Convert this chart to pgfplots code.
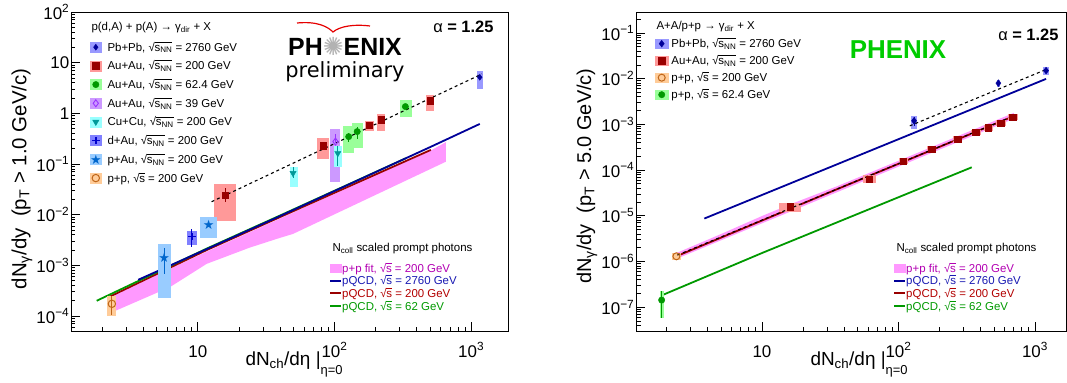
\documentclass[border=0pt]{standalone}
\usepackage{pgfplots}
\pgfplotsset{compat=1.18}
\usepackage{fontspec}
\setmainfont{Liberation Sans}
\newfontfamily\dejavu{DejaVu Sans}
\newcommand{\fs}[1]{\fontsize{#1}{#1}\selectfont}
\newcommand{\sNN}{√\kern-0.3bp$\overline{\hbox{\vphantom{N}s\textsubscript{NN}}}$}
\newcommand{\sqs}{√\kern-0.3bp$\overline{\hbox{\vphantom{N}s}}$}
\definecolor{cPb}{rgb}{0,0,0.6}
\definecolor{cPbB}{rgb}{0.6,0.6,1}
\definecolor{cAu}{rgb}{0.6,0,0}
\definecolor{cAuB}{rgb}{1,0.6,0.6}
\definecolor{cAg}{rgb}{0,0.6,0}
\definecolor{cAgB}{rgb}{0.6,1,0.6}
\definecolor{cAp}{rgb}{0.6,0.2,1}
\definecolor{cApB}{rgb}{0.8,0.6,1}
\definecolor{cCu}{rgb}{0,0.6,0.6}
\definecolor{cCuB}{rgb}{0.6,1,1}
\definecolor{cdA}{rgb}{0,0,0.8}
\definecolor{cdAB}{rgb}{0.5,0.5,1}
\definecolor{cpA}{rgb}{0,0.4,0.8}
\definecolor{cpAB}{rgb}{0.6,0.8,1}
\definecolor{cpp}{rgb}{0.75,0.4,0.1}
\definecolor{cppB}{rgb}{1,0.8,0.6}
\definecolor{cPink}{rgb}{1,0.6,1}
\definecolor{cLB}{rgb}{0,0,0.6}
\definecolor{cLR}{rgb}{0.6,0,0}
\definecolor{cLG}{rgb}{0,0.6,0}
\definecolor{tPink}{rgb}{0.7,0,0.7}
\definecolor{tBlue}{rgb}{0.1,0.1,0.7}
\definecolor{tRed}{rgb}{0.7,0,0}
\definecolor{tGreen}{rgb}{0,0.6,0}
\definecolor{phgreen}{rgb}{0,0.8,0}
\pgfplotsset{
 /pgfplots/myBase/.style={/pgfplots/scale only axis, /pgfplots/height=319bp,
   /pgfplots/tick pos=left, /pgfplots/tick align=inside,
   /pgfplots/major tick length=9bp, /pgfplots/minor tick length=4.5bp,
   /pgfplots/axis line style={line width=0.8bp}, /pgfplots/every tick/.append style={line width=0.8bp, black},
   /pgfplots/tick label style={font=\fs{17}},
   /pgfplots/xticklabel style={anchor=base, yshift=-26bp},
   /pgfplots/yticklabel style={inner sep=1.5bp},
   /pgfplots/xtick={10,100,1000}, /pgfplots/xticklabels={10,10\textsuperscript{2},10\textsuperscript{3}},
   /pgfplots/minor xtick={2,3,4,5,6,7,8,9,20,30,40,50,60,70,80,90,200,300,400,500,600,700,800,900}},
 /pgfplots/myL/.style={/pgfplots/myBase, /pgfplots/width=437bp, /pgfplots/xmin=1.18, /pgfplots/xmax=1860, /pgfplots/ymin=5.06e-5, /pgfplots/ymax=100},
 /pgfplots/myR/.style={/pgfplots/myBase, /pgfplots/width=430bp, /pgfplots/xmin=1.194, /pgfplots/xmax=1687, /pgfplots/ymin=3.01e-8, /pgfplots/ymax=0.288},
 /pgfplots/myBox/.style={/tikz/fill=#1, /tikz/draw=none, /pgfplots/forget plot},
 /pgfplots/myErr/.style={/pgfplots/error bars/y dir=both, /pgfplots/error bars/y explicit, /pgfplots/error bars/error mark=none, /pgfplots/error bars/error bar style={line width=0.9bp}},
 /pgfplots/myDleg/.style={/pgfplots/legend image code/.code={\fill[#1] (0bp,-1bp) rectangle (11bp,9bp); \draw[##1] plot coordinates {(5.5bp,4bp)}; \path (17bp,0bp);}},
 /pgfplots/myDlegR/.style={/pgfplots/legend image code/.code={\fill[#1] (0bp,-0.5bp) rectangle (13bp,8.5bp); \draw[##1] plot coordinates {(6.5bp,4bp)}; \path (16bp,0bp);}},
 /pgfplots/myLeg/.style={/pgfplots/legend cell align=left, /pgfplots/legend style={draw=none, fill=none, inner sep=0pt, outer sep=0pt, row sep=#1, font=\fs{11.5}, cells={anchor=base west}, nodes={inner sep=0pt, text height=8.5bp, text depth=3bp}}},
}
\begin{document}
\begin{tikzpicture}[x=1bp,y=1bp]
%================ LEFT: curves =================
\begin{loglogaxis}[myL, at={(71bp,52bp)}, anchor=south west, hide axis, myLeg=1.2bp, legend style={at={(0.5904,0.2116)}, anchor=north west}]
\addplot[fill=cPink, draw=none, forget plot] coordinates {(2.34,2.40e-4) (6.25,8.5e-4) (11.6,1.86e-3) (39.7,8.32e-3) (507,0.185) (653,0.27) (653,0.111) (49.7,4.17e-3) (39.7,3.47e-3) (24,2.24e-3) (11.6,1.07e-3) (6.25,3.72e-4) (2.34,1.175e-4)};
\addplot[cLR, line width=1.8bp, forget plot] coordinates {(2.28,2.43e-4) (11.6,2.0e-3) (39.7,8.9e-3) (507,0.19)};
\addplot[cLG, line width=1.8bp, forget plot] coordinates {(1.82,2.0e-4) (11.6,2.14e-3) (39.7,9.55e-3) (333,0.130)};
\addplot[cLB, line width=1.8bp, forget plot] coordinates {(3.66,5.18e-4) (11.6,2.09e-3) (39.7,9.33e-3) (507,0.219) (1156,0.618)};
\addlegendimage{legend image code/.code={\fill[cPink] (0bp,0bp) rectangle (11bp,8bp); \path (12bp,0bp);}}
\addlegendentry{\textcolor{tPink}{p+p fit, \sqs{} = 200 GeV}}
\addlegendimage{legend image code/.code={\draw[cLB, line width=2bp] (0bp,4bp) -- (11bp,4bp); \path (12bp,0bp);}}
\addlegendentry{\textcolor{tBlue}{pQCD, \sqs{} = 2760 GeV}}
\addlegendimage{legend image code/.code={\draw[cLR, line width=2bp] (0bp,4bp) -- (11bp,4bp); \path (12bp,0bp);}}
\addlegendentry{\textcolor{tRed}{pQCD, \sqs{} = 200 GeV}}
\addlegendimage{legend image code/.code={\draw[cLG, line width=2bp] (0bp,4bp) -- (11bp,4bp); \path (12bp,0bp);}}
\addlegendentry{\textcolor{tGreen}{pQCD, \sqs{} = 62 GeV}}
\end{loglogaxis}
%================ LEFT: data =================
\begin{loglogaxis}[myL, at={(71bp,52bp)}, anchor=south west, myLeg=6.5bp, legend style={at={(0.0435,0.906)}, anchor=north west},
  ytick={1e-4,1e-3,1e-2,1e-1,1,10,100},
  yticklabels={10\textsuperscript{−4},10\textsuperscript{−3},10\textsuperscript{−2},10\textsuperscript{−1},1,10,10\textsuperscript{2}},
  minor ytick={6e-5,7e-5,8e-5,9e-5,2e-4,3e-4,4e-4,5e-4,6e-4,7e-4,8e-4,9e-4,2e-3,3e-3,4e-3,5e-3,6e-3,7e-3,8e-3,9e-3,0.02,0.03,0.04,0.05,0.06,0.07,0.08,0.09,0.2,0.3,0.4,0.5,0.6,0.7,0.8,0.9,2,3,4,5,6,7,8,9,20,30,40,50,60,70,80,90}]
\addplot[myBox=cPbB] coordinates {(1112,2.99) (1216,2.99) (1216,6.95) (1112,6.95)};
\addplot[myBox=cAuB] coordinates {(13.2,7.55e-3) (18.9,7.55e-3) (18.9,0.0406) (13.2,0.0406)};
\addplot[myBox=cAuB] coordinates {(74.8,0.124) (90.8,0.124) (90.8,0.323) (74.8,0.323)};
\addplot[myBox=cAuB] coordinates {(168,0.45) (194,0.45) (194,0.708) (168,0.708)};
\addplot[myBox=cAuB] coordinates {(204,0.456) (236,0.456) (236,0.973) (204,0.973)};
\addplot[myBox=cAuB] coordinates {(467,1.13) (537,1.13) (537,2.31) (467,2.31)};
\addplot[myBox=cAgB] coordinates {(116,0.168) (140,0.168) (140,0.571) (116,0.571)};
\addplot[myBox=cAgB] coordinates {(134.6,0.205) (161,0.205) (161,0.638) (134.6,0.638)};
\addplot[myBox=cAgB] coordinates {(302,0.861) (366,0.861) (366,1.84) (302,1.84)};
\addplot[myBox=cApB] coordinates {(92,0.045) (110.6,0.045) (110.6,0.492) (92,0.492)};
\addplot[myBox=cCuB] coordinates {(47,0.0358) (54.5,0.0358) (54.5,0.089) (47,0.089)};
\addplot[myBox=cCuB] coordinates {(98.4,0.0865) (113.7,0.0865) (113.7,0.227) (98.4,0.227)};
\addplot[myBox=cdAB] coordinates {(8.27,2.54e-3) (9.79,2.54e-3) (9.79,4.87e-3) (8.27,4.87e-3)};
\addplot[myBox=cpAB] coordinates {(5.08,2.25e-4) (6.35,2.25e-4) (6.35,2.65e-3) (5.08,2.65e-3)};
\addplot[myBox=cpAB] coordinates {(10.35,3.53e-3) (13.8,3.53e-3) (13.8,9.2e-3) (10.35,9.2e-3)};
\addplot[myBox=cppB] coordinates {(2.18,1.02e-4) (2.52,1.02e-4) (2.52,2.5e-4) (2.18,2.5e-4)};
\addplot[black, dashed, line width=1.1bp, forget plot] coordinates {(12.6,0.018) (1200,6.0)};
\addplot[cPb, only marks, mark=diamond*, mark size=3bp, myErr, myDleg=cPbB] coordinates {(1156,5.15) +- (0,0.45)};
\addlegendentry{Pb+Pb, \sNN{} = 2760 GeV}
\addplot[cAu, only marks, mark=square*, mark size=3.2bp, myErr, myDleg=cAuB] coordinates {(15.9,0.0245) += (0,0.0085) -= (0,0.0065) (83,0.231) +- (0,0.03) (180,0.58) +- (0,0.05) (219,0.75) +- (0,0.07) (500,1.78) +- (0,0.15)};
\addlegendentry{Au+Au, \sNN{} = 200 GeV}
\addplot[cAg, only marks, mark=*, mark size=3.2bp, myErr, myDleg=cAgB] coordinates {(127,0.347) +- (0,0.07) (146.5,0.436) += (0,0.11) -= (0,0.13) (330,1.36) +- (0,0.15)};
\addlegendentry{Au+Au, \sNN{} = 62.4 GeV}
\addplot[cAp, only marks, mark=diamond, mark size=3.5bp, mark options={fill=white, line width=0.9bp}, myErr, myDleg=cApB] coordinates {(101.6,0.277) += (0,0.116) -= (0,0.02)};
\addlegendentry{Au+Au, \sNN{} = 39 GeV}
\addplot[cCu, only marks, mark=triangle*, mark size=3.6bp, mark options={rotate=180}, myErr, myDleg=cCuB] coordinates {(49.7,0.066) += (0,0.0205) -= (0,0.0135) (105.7,0.163) += (0,0.064) -= (0,0.072)};
\addlegendentry{Cu+Cu, \sNN{} = 200 GeV}
\addplot[cdA, only marks, mark=+, mark size=3.8bp, mark options={line width=1.6bp}, myErr, myDleg=cdAB] coordinates {(9.04,3.7e-3) += (0,1.48e-3) -= (0,1.41e-3)};
\addlegendentry{d+Au, \sNN{} = 200 GeV}
\addplot[cpA, only marks, mark=text, text mark={\color{cpA}\fs{13}\dejavu ★}, myErr, myDleg=cpAB] coordinates {(5.68,1.43e-3) += (0,0.76e-3) -= (0,0.75e-3) (12.0,6.3e-3) +- (0,0.6e-3)};
\addlegendentry{p+Au, \sNN{} = 200 GeV}
\addplot[cpp, only marks, mark=o, mark size=3.7bp, mark options={line width=1bp}, myErr, myDleg=cppB] coordinates {(2.35,1.74e-4) +- (0,0.69e-4)};
\addlegendentry{p+p, \sqs{} = 200 GeV}
\end{loglogaxis}
%================ RIGHT: curves =================
\begin{loglogaxis}[myR, at={(636bp,52bp)}, anchor=south west, hide axis, myLeg=1.2bp, legend style={at={(0.5977,0.2116)}, anchor=north west}]
\addplot[fill=cPink, draw=none, forget plot] coordinates {(2.36,1.53e-6) (5,3.98e-6) (10,9.89e-6) (16,1.77e-5) (35,4.36e-5) (100,1.60e-4) (300,6.25e-4) (700,1.79e-3) (700,1.33e-3) (300,4.63e-4) (100,1.19e-4) (35,3.23e-5) (16,1.22e-5) (10,6.84e-6) (5,2.90e-6) (2.36,1.14e-6)};
\addplot[cLR, line width=1.8bp, forget plot] coordinates {(2.36,1.3e-6) (34.8,3.73e-5) (690,1.49e-3)};
\addplot[cLG, line width=1.8bp, forget plot] coordinates {(1.84,1.81e-7) (10.1,1.55e-6) (344,1.15e-4)};
\addplot[cLB, line width=1.8bp, forget plot] coordinates {(3.78,8.7e-6) (1205,9.9e-3)};
\addlegendimage{legend image code/.code={\fill[cPink] (0bp,0bp) rectangle (11bp,8bp); \path (12bp,0bp);}}
\addlegendentry{\textcolor{tPink}{p+p fit, \sqs{} = 200 GeV}}
\addlegendimage{legend image code/.code={\draw[cLB, line width=2bp] (0bp,4bp) -- (11bp,4bp); \path (12bp,0bp);}}
\addlegendentry{\textcolor{tBlue}{pQCD, \sqs{} = 2760 GeV}}
\addlegendimage{legend image code/.code={\draw[cLR, line width=2bp] (0bp,4bp) -- (11bp,4bp); \path (12bp,0bp);}}
\addlegendentry{\textcolor{tRed}{pQCD, \sqs{} = 200 GeV}}
\addlegendimage{legend image code/.code={\draw[cLG, line width=2bp] (0bp,4bp) -- (11bp,4bp); \path (12bp,0bp);}}
\addlegendentry{\textcolor{tGreen}{pQCD, \sqs{} = 62 GeV}}
\end{loglogaxis}
%================ RIGHT: data =================
\begin{loglogaxis}[myR, at={(636bp,52bp)}, anchor=south west, myLeg=5.3bp, legend style={at={(0.0442,0.9154)}, anchor=north west},
  ytick={1e-7,1e-6,1e-5,1e-4,1e-3,1e-2,1e-1},
  yticklabels={10\textsuperscript{−7},10\textsuperscript{−6},10\textsuperscript{−5},10\textsuperscript{−4},10\textsuperscript{−3},10\textsuperscript{−2},10\textsuperscript{−1}},
  minor ytick={4e-8,5e-8,6e-8,7e-8,8e-8,9e-8,2e-7,3e-7,4e-7,5e-7,6e-7,7e-7,8e-7,9e-7,2e-6,3e-6,4e-6,5e-6,6e-6,7e-6,8e-6,9e-6,2e-5,3e-5,4e-5,5e-5,6e-5,7e-5,8e-5,9e-5,2e-4,3e-4,4e-4,5e-4,6e-4,7e-4,8e-4,9e-4,2e-3,3e-3,4e-3,5e-3,6e-3,7e-3,8e-3,9e-3,0.02,0.03,0.04,0.05,0.06,0.07,0.08,0.09,0.2}]
\addplot[myBox=cPbB] coordinates {(124,7.9e-4) (136,7.9e-4) (136,1.54e-3) (124,1.54e-3)};
\addplot[myBox=cPbB] coordinates {(525,6.5e-3) (555,6.5e-3) (555,9.4e-3) (525,9.4e-3)};
\addplot[myBox=cPbB] coordinates {(1151,0.0121) (1268,0.0121) (1268,0.0184) (1151,0.0184)};
\addplot[myBox=cAuB] coordinates {(13.4,1.22e-5) (19.3,1.22e-5) (19.3,1.91e-5) (13.4,1.91e-5)};
\addplot[myBox=cAuB] coordinates {(54.7,5.2e-5) (68.4,5.2e-5) (68.4,7.9e-5) (54.7,7.9e-5)};
\addplot[myBox=cAuB] coordinates {(100.3,1.335e-4) (117.8,1.335e-4) (117.8,1.80e-4) (100.3,1.80e-4)};
\addplot[myBox=cAuB] coordinates {(161.5,2.49e-4) (189.7,2.49e-4) (189.7,3.36e-4) (161.5,3.36e-4)};
\addplot[myBox=cAuB] coordinates {(250.5,4.12e-4) (294.3,4.12e-4) (294.3,5.55e-4) (250.5,5.55e-4)};
\addplot[myBox=cAuB] coordinates {(339.5,5.73e-4) (398.9,5.73e-4) (398.9,7.72e-4) (339.5,7.72e-4)};
\addplot[myBox=cAuB] coordinates {(419.8,7.26e-4) (493.2,7.26e-4) (493.2,9.79e-4) (419.8,9.79e-4)};
\addplot[myBox=cAuB] coordinates {(517.6,9.21e-4) (608,9.21e-4) (608,1.243e-3) (517.6,1.243e-3)};
\addplot[myBox=cAuB] coordinates {(633.8,1.24e-3) (744.6,1.24e-3) (744.6,1.672e-3) (633.8,1.672e-3)};
\addplot[myBox=cppB] coordinates {(2.2,1.1e-6) (2.55,1.1e-6) (2.55,1.55e-6) (2.2,1.55e-6)};
\addplot[myBox=cAgB] coordinates {(1.787,5.9e-8) (1.90,5.9e-8) (1.90,2.25e-7) (1.787,2.25e-7)};
\addplot[black, dashed, line width=1.1bp, forget plot] coordinates {(121,9.3e-4) (1219,0.0161)};
\addplot[black, dashed, line width=1.1bp, forget plot] coordinates {(2.4,1.38e-6) (702,1.54e-3)};
\addplot[cPb, only marks, mark=diamond*, mark size=3.4bp, myErr, myDlegR=cPbB] coordinates {(130,1.2e-3) +- (0,0.28e-3) (539,7.98e-3) +- (0,0.6e-3) (1205,0.01503) +- (0,0.0015)};
\addlegendentry{Pb+Pb, \sNN{} = 2760 GeV}
\addplot[cAu, only marks, mark=square*, mark size=3.2bp, myDlegR=cAuB] coordinates {(16.1,1.58e-5) (61.1,6.4e-5) (108.7,1.55e-4) (175,2.89e-4) (271.5,4.78e-4) (368,6.65e-4) (455,8.43e-4) (561,1.07e-3) (687,1.44e-3)};
\addlegendentry{Au+Au, \sNN{} = 200 GeV}
\addplot[cpp, only marks, mark=o, mark size=3.5bp, mark options={line width=1bp}, myDlegR=cppB] coordinates {(2.36,1.3e-6)};
\addlegendentry{p+p, \sqs{} = 200 GeV}
\addplot[cAg, only marks, mark=*, mark size=3.2bp, myErr, myDlegR=cAgB] coordinates {(1.84,1.43e-7) += (0,0.82e-7) -= (0,0.84e-7)};
\addlegendentry{p+p, \sqs{} = 62.4 GeV}
\end{loglogaxis}
%================ texts =================
\node[anchor=west, font=\fs{11.5}] at (88bp,355bp) {p(d,A) + p(A) → γ\textsubscript{dir} + X};
\node[anchor=west, font=\fs{11.5}] at (653bp,356bp) {A+A/p+p → γ\textsubscript{dir} + X};
\node[font=\fs{25}\bfseries] at (345bp,337bp) {PH{\color{black!30}\mdseries\dejavu ✺}ENIX};
\node[font=\fs{21}\dejavu] at (345bp,311bp) {preliminary};
\draw[red!90!black, line width=1.2bp] (297bp,360bp) .. controls (318bp,362bp) and (328bp,356bp) .. (333bp,351bp) .. controls (340bp,357bp) and (355bp,359bp) .. (370bp,357bp);
\node[font=\fs{26}\bfseries, text=phgreen] at (898bp,333bp) {PHENIX};
\node[anchor=east, font=\fs{16.5}] at (497bp,356bp) {α \textbf{= 1.25}};
\node[anchor=east, font=\fs{16.5}] at (1062bp,348bp) {α \textbf{= 1.25}};
\node[anchor=west, font=\fs{11.5}] at (329bp,134bp) {N\textsubscript{coll} scaled prompt photons};
\node[anchor=west, font=\fs{11.5}] at (893bp,134bp) {N\textsubscript{coll} scaled prompt photons};
\node[rotate=90, anchor=east, font=\fs{20.5}] at (22bp,318bp) {dN\textsubscript{γ}/dy\ \ (p\textsubscript{T} > 1.0 GeV/c)};
\node[rotate=90, anchor=east, font=\fs{20}] at (587bp,318bp) {dN\textsubscript{γ}/dy\ \ (p\textsubscript{T} > 5.0 GeV/c)};
\node[anchor=base west, font=\fs{19}] at (242bp,18bp) {dN\textsubscript{ch}/dη |\raisebox{-9bp}{\fs{13}η=0}};
\node[anchor=base west, font=\fs{19}] at (807bp,18bp) {dN\textsubscript{ch}/dη |\raisebox{-9bp}{\fs{13}η=0}};
\pgfresetboundingbox
\path[use as bounding box] (0bp,0bp) rectangle (1067bp,383bp);
\end{tikzpicture}
\end{document}
